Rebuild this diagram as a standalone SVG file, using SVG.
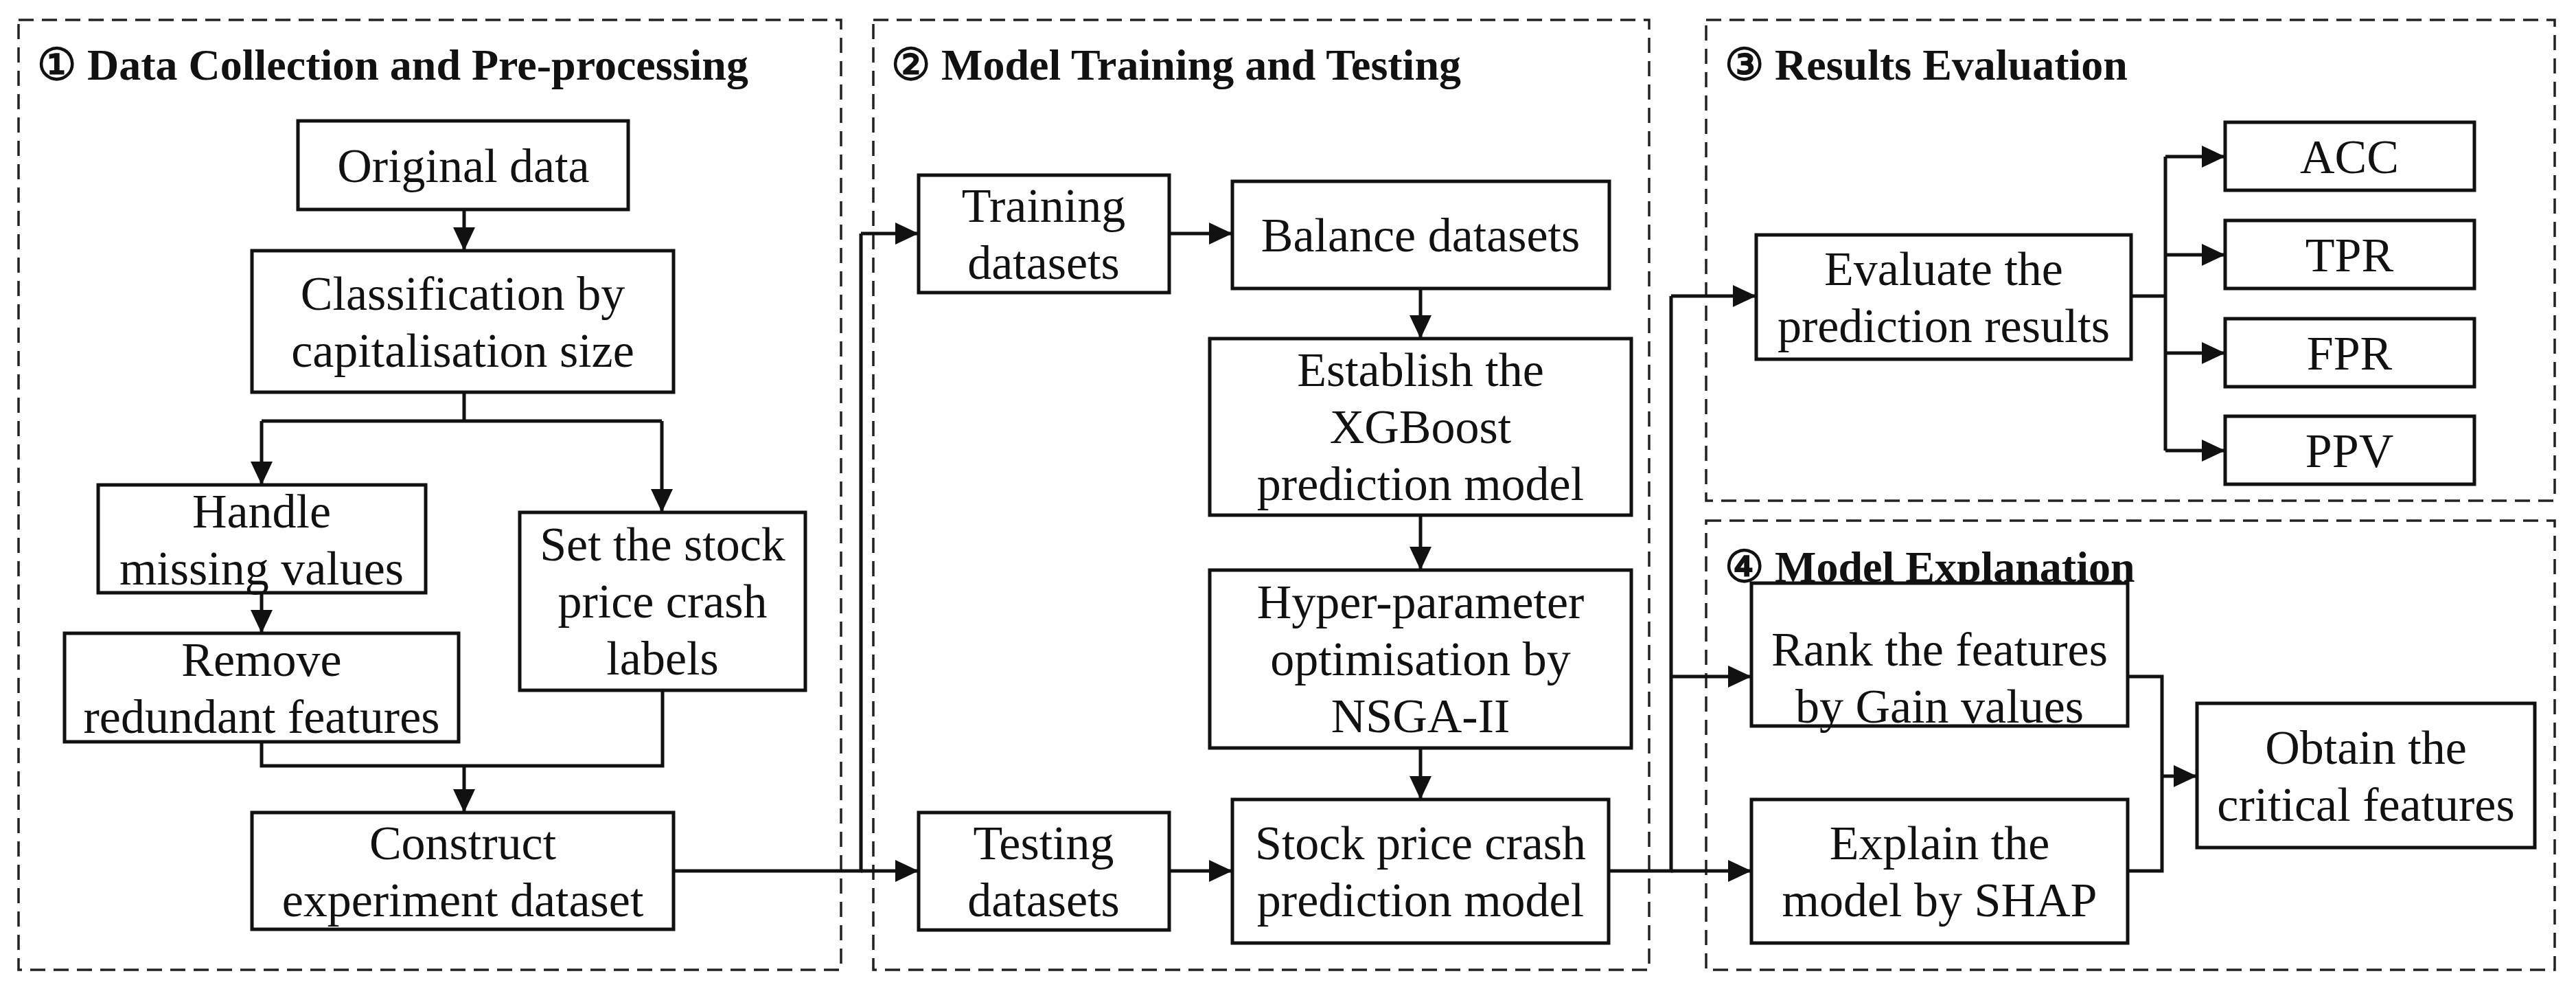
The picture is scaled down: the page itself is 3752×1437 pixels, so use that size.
<svg xmlns="http://www.w3.org/2000/svg" width="3752" height="1437" viewBox="0 0 3752 1437">
<style>
.panel{fill:none;stroke:#222;stroke-width:3.5;stroke-dasharray:22 12}
.box{fill:#fff;stroke:#111;stroke-width:5}
.t{font-family:"Liberation Serif","Times New Roman",serif;font-size:70px;fill:#111;text-anchor:middle}
.h{font-family:"Liberation Serif","Times New Roman",serif;font-size:64px;font-weight:bold;fill:#111}
.c{fill:none;stroke:#111;stroke-width:5}
</style>
<defs>
<marker id="a" markerUnits="userSpaceOnUse" markerWidth="36" markerHeight="32" refX="34" refY="16" orient="auto">
<path d="M0,0 L34,16 L0,32 Z" fill="#111"/>
</marker>
</defs>
<rect width="3752" height="1437" fill="#fff"/>
<g id="panels">
<rect class="panel" x="27" y="29" width="1198" height="1383"/>
<rect class="panel" x="1272" y="29" width="1130" height="1383"/>
<rect class="panel" x="2485" y="29" width="1236" height="700"/>
<rect class="panel" x="2485" y="758" width="1236" height="654"/>
<text class="h" x="54" y="116">① Data Collection and Pre-processing</text>
<text class="h" x="1298" y="116">② Model Training and Testing</text>
<text class="h" x="2512" y="116">③ Results Evaluation</text>
<text class="h" x="2512" y="847">④ Model Explanation</text>
</g>
<g id="connectors">
<path class="c" d="M676,305 V365" marker-end="url(#a)"/>
<path class="c" d="M676,571 V613 M381,613 H964"/>
<path class="c" d="M381,613 V706" marker-end="url(#a)"/>
<path class="c" d="M964,613 V746" marker-end="url(#a)"/>
<path class="c" d="M381,863 V922" marker-end="url(#a)"/>
<path class="c" d="M381,1080 V1115 H965 V1005"/>
<path class="c" d="M676,1115 V1183" marker-end="url(#a)"/>
<path class="c" d="M981,1268 H1254 V340"/>
<path class="c" d="M1254,340 H1338" marker-end="url(#a)"/>
<path class="c" d="M1254,1268 H1338" marker-end="url(#a)"/>
<path class="c" d="M1703,340 H1795" marker-end="url(#a)"/>
<path class="c" d="M2069,420 V493" marker-end="url(#a)"/>
<path class="c" d="M2069,750 V830" marker-end="url(#a)"/>
<path class="c" d="M2069,1089 V1164" marker-end="url(#a)"/>
<path class="c" d="M1703,1268 H1795" marker-end="url(#a)"/>
<path class="c" d="M2343,1268 H2434 V431"/>
<path class="c" d="M2434,431 H2558" marker-end="url(#a)"/>
<path class="c" d="M2434,985 H2551" marker-end="url(#a)"/>
<path class="c" d="M2434,1268 H2551" marker-end="url(#a)"/>
<path class="c" d="M3104,431 H3154 M3154,228 V656"/>
<path class="c" d="M3154,228 H3241" marker-end="url(#a)"/>
<path class="c" d="M3154,371 H3241" marker-end="url(#a)"/>
<path class="c" d="M3154,514 H3241" marker-end="url(#a)"/>
<path class="c" d="M3154,656 H3241" marker-end="url(#a)"/>
<path class="c" d="M3099,985 H3149 V1268 H3099"/>
<path class="c" d="M3149,1130 H3200" marker-end="url(#a)"/>
</g>
<g id="original"><rect class="box" x="434" y="176" width="481" height="129"/><text class="t" x="675" y="265">Original data</text></g>
<g id="classification"><rect class="box" x="367" y="365" width="614" height="206"/><text class="t" x="674" y="451">Classification by<tspan x="674" dy="83">capitalisation size</tspan></text></g>
<g id="handle"><rect class="box" x="143" y="706" width="477" height="157"/><text class="t" x="381" y="768">Handle<tspan x="381" dy="83">missing values</tspan></text></g>
<g id="setlabels"><rect class="box" x="757" y="746" width="416" height="259"/><text class="t" x="965" y="816">Set the stock<tspan x="965" dy="83">price crash</tspan><tspan x="965" dy="83">labels</tspan></text></g>
<g id="remove"><rect class="box" x="94" y="922" width="574" height="158"/><text class="t" x="381" y="984">Remove<tspan x="381" dy="83">redundant features</tspan></text></g>
<g id="construct"><rect class="box" x="367" y="1183" width="614" height="170"/><text class="t" x="674" y="1251">Construct<tspan x="674" dy="83">experiment dataset</tspan></text></g>
<g id="training"><rect class="box" x="1338" y="255" width="365" height="171"/><text class="t" x="1520" y="323">Training<tspan x="1520" dy="83">datasets</tspan></text></g>
<g id="balance"><rect class="box" x="1795" y="264" width="549" height="156"/><text class="t" x="2069" y="366">Balance datasets</text></g>
<g id="establish"><rect class="box" x="1762" y="493" width="614" height="257"/><text class="t" x="2069" y="562">Establish the<tspan x="2069" dy="83">XGBoost</tspan><tspan x="2069" dy="83">prediction model</tspan></text></g>
<g id="hyper"><rect class="box" x="1762" y="830" width="614" height="259"/><text class="t" x="2069" y="900">Hyper-parameter<tspan x="2069" dy="83">optimisation by</tspan><tspan x="2069" dy="83">NSGA-II</tspan></text></g>
<g id="testing"><rect class="box" x="1338" y="1183" width="365" height="171"/><text class="t" x="1520" y="1251">Testing<tspan x="1520" dy="83">datasets</tspan></text></g>
<g id="stockmodel"><rect class="box" x="1795" y="1164" width="548" height="209"/><text class="t" x="2069" y="1251">Stock price crash<tspan x="2069" dy="83">prediction model</tspan></text></g>
<g id="evaluate"><rect class="box" x="2558" y="342" width="546" height="181"/><text class="t" x="2831" y="415">Evaluate the<tspan x="2831" dy="83">prediction results</tspan></text></g>
<g id="acc"><rect class="box" x="3241" y="178" width="363" height="99"/><text class="t" x="3422" y="252">ACC</text></g>
<g id="tpr"><rect class="box" x="3241" y="321" width="363" height="99"/><text class="t" x="3422" y="395">TPR</text></g>
<g id="fpr"><rect class="box" x="3241" y="464" width="363" height="99"/><text class="t" x="3422" y="538">FPR</text></g>
<g id="ppv"><rect class="box" x="3241" y="606" width="363" height="99"/><text class="t" x="3422" y="680">PPV</text></g>
<g id="rank"><rect class="box" x="2551" y="849" width="548" height="208"/><text class="t" x="2825" y="969">Rank the features<tspan x="2825" dy="83">by Gain values</tspan></text></g>
<g id="explain"><rect class="box" x="2551" y="1164" width="548" height="209"/><text class="t" x="2825" y="1251">Explain the<tspan x="2825" dy="83">model by SHAP</tspan></text></g>
<g id="obtain"><rect class="box" x="3200" y="1024" width="492" height="210"/><text class="t" x="3446" y="1112">Obtain the<tspan x="3446" dy="83">critical features</tspan></text></g>
</svg>
